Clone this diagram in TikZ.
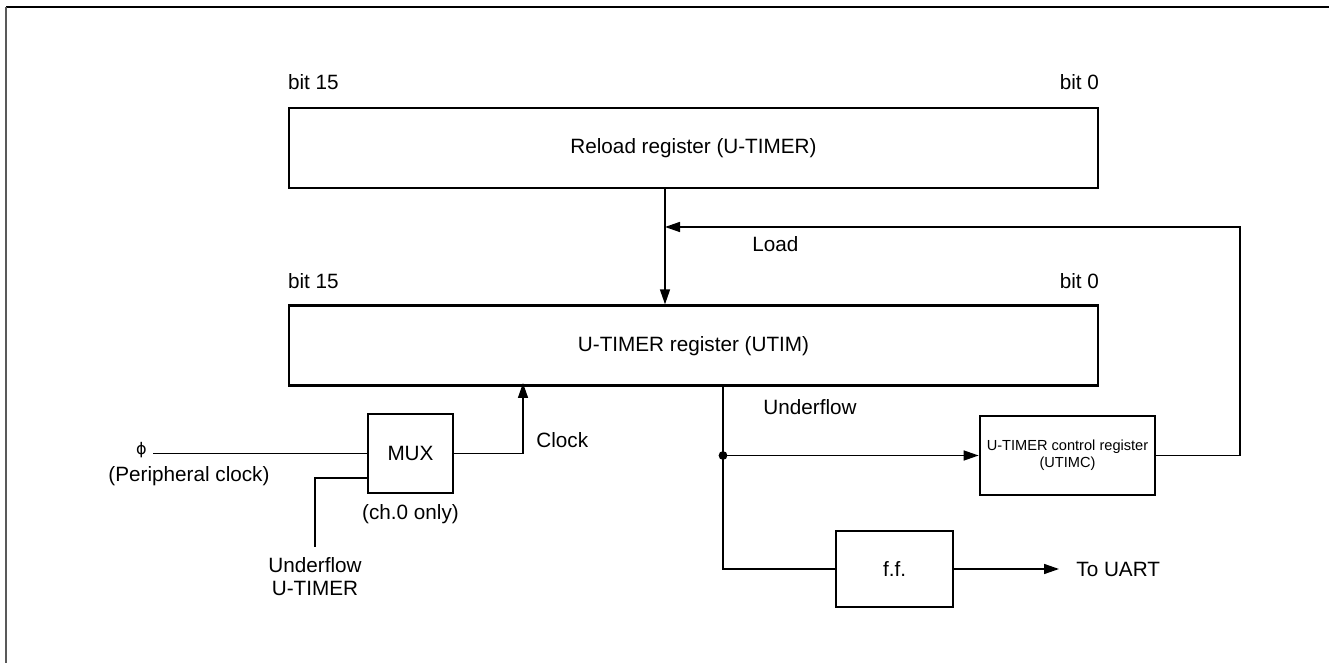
\documentclass[tikz,border=0pt]{standalone}
\usepackage{fontspec}
\setmainfont{Liberation Sans}
\newfontfamily\symfont{DejaVu Sans}
\usetikzlibrary{positioning, arrows.meta, calc}

\begin{document}
\begin{tikzpicture}[x=0.5pt, y=-0.5pt, node distance = 57.5pt,
	every node/.style={font=\fontsize{10.35}{11.7}\selectfont},
	reg/.style={draw, line width=1.35pt, minimum width=404.5pt, minimum height=40pt, inner sep=0pt},
	blk/.style={draw, line width=1.35pt, inner sep=0pt},
	lbl/.style={inner sep=0pt},
	wire/.style={line width=0.75pt},
	sig/.style={line width=0.75pt, -{Triangle[length=7.5pt, width=5pt]}}]
			\useasboundingbox (0,0) rectangle (1329,663);
			\draw[line width=1.2pt] (6,7) -- (1329,7);
			\draw[line width=1pt, black!65] (6,7) -- (6,663);
			
			\node[reg] (reload) at (693.5,148) {Reload register (U-TIMER)};
			\node[reg, below=of reload] (utim) {U-TIMER register (UTIM)};
			\node[lbl, above right=8.5pt and 0pt of reload.north west] (hi1) {bit 15};
			\node[lbl, above left=8.5pt and 0pt of reload.north east] (lo1) {bit 0};
			\node[lbl, above right=7.5pt and 0pt of utim.north west] (hi2) {bit 15};
			\node[lbl, above left=7.5pt and 0pt of utim.north east] (lo2) {bit 0};
			
			\node[blk, minimum width=42.5pt, minimum height=39.5pt] (mux) at (410.5,453.5) {MUX};
			\node[lbl, below=5pt of mux] (ch0) {(ch.0 only)};
			\node[blk, minimum width=87.5pt, minimum height=39.5pt, align=center,
				font=\fontsize{7.3}{8.7}\selectfont] (utimc) at (1067.5,455.5) {U-TIMER control register\\(UTIMC)};
			\node[blk, minimum width=58.5pt, minimum height=38pt] (ff) at (894.5,569) {f.f.};
			
			\node[lbl, anchor=east, inner xsep=3pt, font=\symfont\fontsize{8}{9}\selectfont] (phi) at (153,450) {ϕ};
			\node[lbl] (perclk) at (189,476) {(Peripheral clock)};
			\node[lbl, align=center, anchor=north, inner ysep=5pt] (ufin) at (315,547) {Underflow\\U-TIMER};
			\node[lbl, anchor=base west] (load) at (752,252) {Load};
			\node[lbl, anchor=base west] (uflow) at (763,415) {Underflow};
			\node[lbl, anchor=base west] (clock) at (536,447) {Clock};
			\node[lbl, anchor=west, inner xsep=8.5pt] (uart) at (1059,569) {To UART};
			
			\coordinate (tap) at (665,227);
			\coordinate (ret) at (1240,227);
			\coordinate (clk) at (523,383);
			\coordinate (ufl) at (723,455.5);
			
			\draw[sig] (reload.south -| tap) -- (utim.north -| tap);
			\draw[sig] (utimc.east) -| (ret) -- (tap);
			\draw[wire] (phi.east |- mux.west) -- (mux.west);
			\draw[wire] ($(mux.south west)!0.2!(mux.north west)$) -| (ufin.north);
			\draw[sig] (mux.east) -| (clk);
			\draw[wire] (utim.south -| ufl) |- (ff.west);
			\draw[sig] (ufl) -- (utimc.west);
			\fill (ufl) circle (2.2pt);
			\draw[sig] (ff.east) -- (uart.west);
		\end{tikzpicture}
\end{document}
